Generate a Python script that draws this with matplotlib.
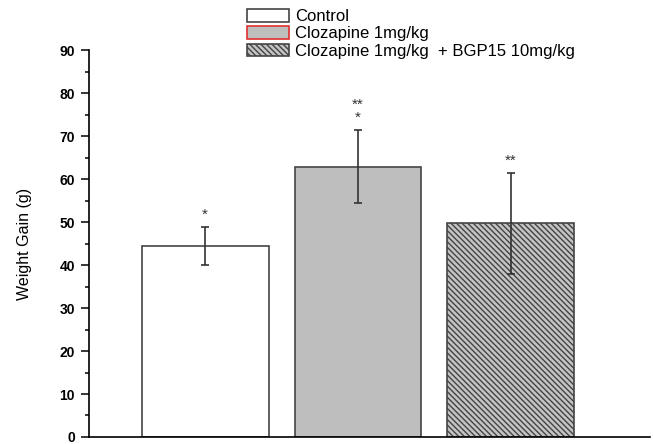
import matplotlib.pyplot as plt
from matplotlib.patches import Patch
from matplotlib.ticker import MultipleLocator

plt.rcParams['font.family'] = ['Liberation Sans', 'DejaVu Sans']
plt.rcParams['hatch.color'] = '#3a3a3a'
plt.rcParams['hatch.linewidth'] = 1.0

# data
groups = ['Control', 'Clozapine 1mg/kg', 'Clozapine 1mg/kg  + BGP15 10mg/kg']
means = [44.5, 62.9, 49.7]
errors = [4.4, 8.5, 11.8]
stars = ['*', '**\n*', '**']

fills = ['white', '#bebebe', '#c4c4c4']
dense = '\\' * 6
hatches = ['', '', dense]

fig = plt.figure(figsize=(6.53, 4.44), dpi=100)
ax = fig.add_axes([0.1363, 0.0158, 0.8587, 0.8712])

x = range(len(groups))
for i in x:
    ax.bar(i, means[i], width=0.83, color=fills[i], edgecolor='#444444',
           linewidth=1.2, hatch=hatches[i], zorder=2)
ax.errorbar(list(x), means, yerr=errors, fmt='none', ecolor='#333333',
            elinewidth=1.2, capsize=3, capthick=1.2, zorder=3)

for i in x:
    ax.text(i, means[i] + errors[i] + 1.2, stars[i], ha='center', va='bottom',
            fontsize=11, color='#333333', linespacing=0.95)

ax.set_xlim(-0.76, 2.91)
ax.set_ylim(0, 90)
ax.yaxis.set_major_locator(MultipleLocator(10))
ax.yaxis.set_minor_locator(MultipleLocator(5))
ax.set_xticks([])
ax.tick_params(axis='y', which='major', length=6, width=1.1, labelsize=10, pad=4)
ax.tick_params(axis='y', which='minor', length=3, width=1.1)
for lab in ax.get_yticklabels():
    lab.set_fontweight('bold')
ax.spines['top'].set_visible(False)
ax.spines['right'].set_visible(False)
ax.spines['left'].set_linewidth(1.2)
ax.spines['bottom'].set_linewidth(1.2)
ax.set_ylabel('Weight Gain (g)', fontsize=11.5, labelpad=20)

handles = [
    Patch(facecolor='white', edgecolor='#444444', linewidth=1.2),
    Patch(facecolor='#bebebe', edgecolor='#e03030', linewidth=1.2),
    Patch(facecolor='#c4c4c4', edgecolor='#444444', linewidth=1.2, hatch=dense),
]
fig.legend(handles, groups, loc='upper left', bbox_to_anchor=(247 / 653, 1 - 9 / 444),
           frameon=False, fontsize=12, handlelength=2.5, handleheight=0.8,
           handletextpad=0.38, labelspacing=0.13, borderpad=0, borderaxespad=0)

fig.savefig('out.png', dpi=100)
